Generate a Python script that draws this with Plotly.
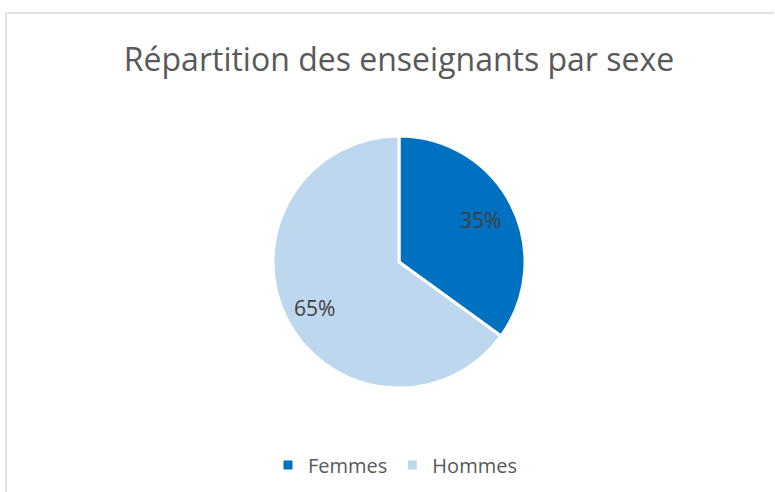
import math
import plotly.graph_objects as go

categories = ["Femmes", "Hommes"]
values = [35, 65]
colors = ["#0070C0", "#BDD7EE"]

W, H = 775, 492
cx, cy, r = 399, 262, 126

fig = go.Figure(go.Pie(
    labels=categories,
    values=values,
    sort=False,
    direction="clockwise",
    rotation=0,
    marker=dict(colors=colors, line=dict(color="white", width=3)),
    textinfo="none",
    domain=dict(x=[(cx - r) / W, (cx + r) / W], y=[1 - (cy + r) / H, 1 - (cy - r) / H]),
    hoverinfo="label+percent",
))

# percentage labels placed at each slice's mid-angle (Excel "best fit" style)
total = sum(values)
annotations = []
start = 0.0
label_frac = [0.73, 0.75]
label_dy = [0, 3]
for v, f, d in zip(values, label_frac, label_dy):
    mid = (start + v / 2) / total * 2 * math.pi
    start += v
    x = cx + f * r * math.sin(mid)
    y = cy - f * r * math.cos(mid) + d
    annotations.append(dict(
        text=f"{round(v / total * 100)}%",
        x=x / W, y=1 - y / H, xref="paper", yref="paper",
        xanchor="center", yanchor="middle", showarrow=False,
        font=dict(family="Open Sans", size=21, color="#404040"),
    ))

fig.update_layout(
    width=W, height=H,
    margin=dict(l=0, r=0, t=0, b=0),
    paper_bgcolor="white",
    plot_bgcolor="white",
    title=dict(
        text="Répartition des enseignants par sexe",
        x=cx / W, xanchor="center",
        y=1 - 60 / H, yanchor="middle",
        font=dict(family="Open Sans", size=32, color="#595959"),
    ),
    legend=dict(
        orientation="h",
        x=395 / W, xanchor="center",
        y=1 - 465 / H, yanchor="middle",
        font=dict(family="Open Sans", size=20, color="#595959"),
    ),
    annotations=annotations,
    shapes=[
        dict(type="line", xref="paper", yref="paper", x0=6 / W, x1=774 / W,
             y0=1 - 13 / H, y1=1 - 13 / H, line=dict(color="#D9D9D9", width=1.5)),
        dict(type="line", xref="paper", yref="paper", x0=6 / W, x1=6 / W,
             y0=0, y1=1 - 13 / H, line=dict(color="#D9D9D9", width=1.5)),
    ],
)

fig.write_html("out.html", config={"displayModeBar": False},
               post_script="document.body.style.margin='0';")
